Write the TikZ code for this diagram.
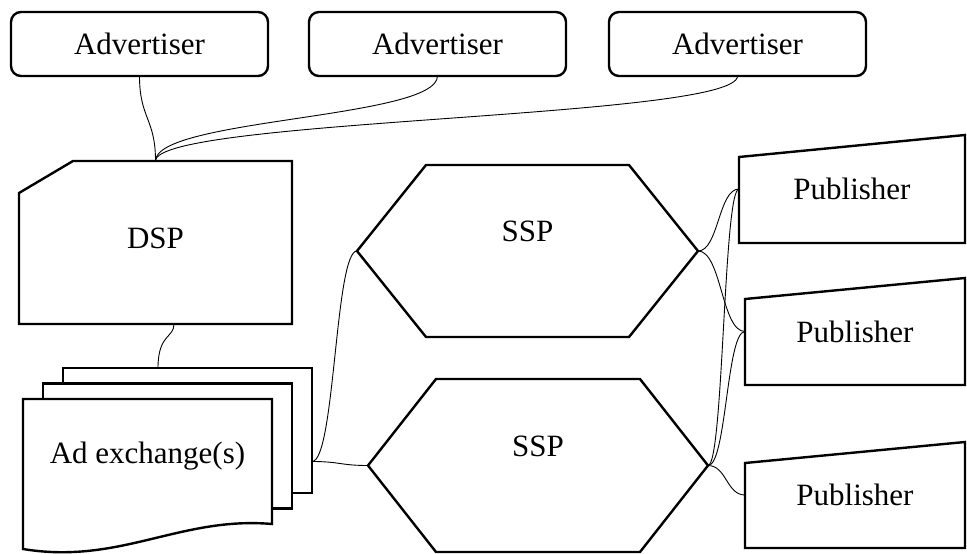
\documentclass[tikz,border=0pt]{standalone}
\usepackage{fontspec}
\setmainfont{Liberation Serif}
\usepackage{xcolor}
\usetikzlibrary{calc,positioning,backgrounds}
\definecolor{InkBlack}{HTML}{000000}
\newcommand{\hexoutline}[2]{%
    \draw[outline] (#1.west) -- ($(#1.north west)+(#2,0)$) -- ($(#1.north east)+(-#2,0)$)
        -- (#1.east) -- ($(#1.south east)+(-#2,0)$) -- ($(#1.south west)+(#2,0)$) -- cycle;%
}
\newcommand{\puboutline}[2]{%
    \draw[outline] (#1.south west) -- (#1.south east) -- (#1.north east)
        -- ($(#1.north west)+(0,#2)$) -- cycle;%
}
\begin{document}
\begin{tikzpicture}[x=1pt, y=-1pt,
        every node/.style={font=\fontsize{31}{37}\selectfont, outer sep=0pt, inner sep=0pt},
        outline/.style={draw=InkBlack, line width=2.4pt},
        link/.style={draw=InkBlack, line width=0.9pt},
        advbox/.style={outline, rounded corners=10pt, minimum width=257pt, minimum height=64pt},
        pubbox/.style={minimum width=220pt, minimum height=107pt},
        hexbox/.style={minimum width=341pt, minimum height=172pt, text depth=39pt}]
        \useasboundingbox (0,0) rectangle (967,554);

        \node[advbox] (adv1) at (139.5,44) {Advertiser};
        \node[advbox, right=41pt of adv1] (adv2) {Advertiser};
        \node[advbox, right=43pt of adv2] (adv3) {Advertiser};

        \node[minimum width=273pt, minimum height=163pt, text depth=9pt] (dsp) at (155.5,242.5) {DSP};
        \draw[outline] (dsp.south west) -- ($(dsp.north west)+(0,32)$) -- ($(dsp.north west)+(54,0)$)
            -- (dsp.north east) -- (dsp.south east) -- cycle;

        % stack of ad exchanges, back sheets first
        \node[minimum width=249pt, minimum height=125pt, text depth=18pt] (adx) at (147.5,461.5) {Ad exchange(s)};
        \begin{scope}[on background layer]
            \draw[outline, fill=white] ($(adx.north west)+(40,-31)$) rectangle ($(adx.south east)+(40,-31)$);
            \draw[outline, fill=white] ($(adx.north west)+(20,-15.5)$) rectangle ($(adx.south east)+(20,-15.5)$);
            \draw[outline, fill=white] (adx.north west) -- (adx.north east) -- (adx.south east)
                .. controls +(-92,-8) and +(97,16) .. ($(adx.south west)+(0,25)$) -- cycle;
        \end{scope}

        \node[hexbox] (ssp1) at (527.5,251) {SSP};
        \node[hexbox, minimum width=340pt, minimum height=173pt] (ssp2) at (538,465.5) {SSP};
        \hexoutline{ssp1}{69}
        \hexoutline{ssp2}{68}

        \node[pubbox, minimum width=226pt, minimum height=108pt] (pub1) at (852,189) {Publisher};
        \node[pubbox] (pub2) at (855,331.5) {Publisher};
        \node[pubbox, minimum height=106pt] (pub3) at (855,495) {Publisher};
        \puboutline{pub1}{22}
        \puboutline{pub2}{21}
        \puboutline{pub3}{21}

        \coordinate (dspout) at ($(dsp.south)+(18.5,0)$);
        \coordinate (adxin) at ($(adx.north)+(10.5,-31)$);
        \coordinate (adxout) at ($(adx.east)+(40,0)$);

        \draw[link] (adv1.south) .. controls +(0,42.5) and +(0,-42.5) .. (dsp.north);
        \draw[link] (adv2.south) .. controls +(0,42.5) and +(0,-42.5) .. (dsp.north);
        \draw[link] (adv3.south) .. controls +(0,42.5) and +(0,-42.5) .. (dsp.north);
        \draw[link] (dspout) .. controls +(0,14) and +(0,-34) .. (adxin);
        \draw[link] (adxout) .. controls +(23,0) and +(-22,0) .. (ssp1.west);
        \draw[link] (adxout) .. controls +(28,0) and +(-28,0) .. (ssp2.west);
        \draw[link] (ssp1.east) .. controls +(20.5,0) and +(-20.5,0) .. (pub1.west);
        \draw[link] (ssp1.east) .. controls +(23.5,0) and +(-23.5,0) .. (pub2.west);
        \draw[link] (ssp2.east) .. controls +(15.5,0) and +(-15.5,0) .. (pub1.west);
        \draw[link] (ssp2.east) .. controls +(18.5,0) and +(-18.5,0) .. (pub2.west);
        \draw[link] (ssp2.east) .. controls +(18.5,0) and +(-18.5,0) .. (pub3.west);
    \end{tikzpicture}
\end{document}
